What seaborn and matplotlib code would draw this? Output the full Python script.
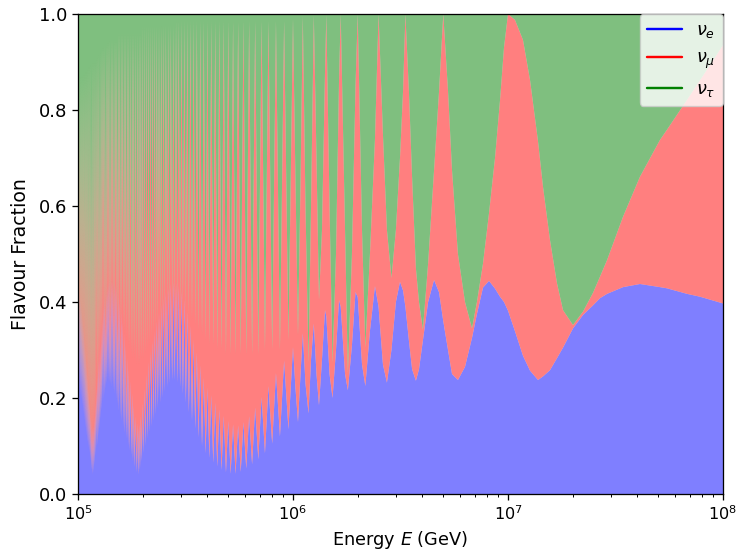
import numpy as np
import pandas as pd
import matplotlib
matplotlib.use("Agg")
import matplotlib.pyplot as plt
from matplotlib.lines import Line2D
import seaborn as sns

# ---------------- data ----------------
# Resolved part (1e6 .. 1e8 GeV): nodes along the two boundaries
energy_resolved = [
    1.0e8, 7.82e7, 6.80e7, 5.49e7, 5.09e7, 4.11e7, 3.43e7, 2.89e7, 2.68e7, 2.485e7,
    2.233e7, 2.006e7, 1.803e7, 1.690e7, 1.568e7, 1.455e7, 1.379e7, 1.266e7, 1.174e7, 1.078e7,
    1.0e7, 9.58e6, 9.18e6, 8.70e6, 8.16e6, 7.65e6, 7.17e6, 6.80e6, 6.31e6, 5.85e6,
    5.49e6, 5.26e6, 5.0e6, 4.78e6, 4.53e6, 4.25e6, 4.02e6, 3.855e6, 3.73e6, 3.58e6,
    3.46e6, 3.333e6, 3.25e6, 3.145e6, 3.01e6, 2.87e6, 2.735e6, 2.62e6, 2.5e6, 2.406e6,
    2.28e6, 2.17e6, 2.094e6, 2.0e6, 1.953e6, 1.88e6, 1.80e6, 1.746e6, 1.667e6, 1.637e6,
    1.585e6, 1.527e6, 1.479e6, 1.429e6, 1.409e6, 1.364e6, 1.321e6, 1.286e6, 1.25e6, 1.213e6,
    1.181e6, 1.143e6, 1.111e6, 1.084e6, 1.055e6, 1.027e6, 1.0e6]
# upper edge of the nu_e band
nue_top_resolved = [
    0.397, 0.411, 0.417, 0.4285, 0.431, 0.4375, 0.431, 0.417, 0.408, 0.393,
    0.373, 0.345, 0.305, 0.283, 0.258, 0.245, 0.2375, 0.257, 0.288, 0.339,
    0.382, 0.40, 0.411, 0.428, 0.444, 0.43, 0.375, 0.325, 0.265, 0.2375,
    0.25, 0.30, 0.36, 0.42, 0.446, 0.40, 0.32, 0.26, 0.236, 0.26,
    0.32, 0.39, 0.424, 0.442, 0.40, 0.30, 0.232, 0.27, 0.39, 0.433,
    0.34, 0.225, 0.27, 0.41, 0.421, 0.31, 0.216, 0.25, 0.39, 0.404,
    0.30, 0.20, 0.25, 0.37, 0.383, 0.28, 0.185, 0.25, 0.355, 0.28,
    0.168, 0.23, 0.335, 0.25, 0.15, 0.22, 0.306]
# upper edge of the nu_mu band (nu_e + nu_mu)
numu_top_resolved = [
    0.935, 0.862, 0.821, 0.759, 0.7375, 0.661, 0.578, 0.4875, 0.453, 0.419,
    0.380, 0.352, 0.383, 0.439, 0.529, 0.640, 0.735, 0.8625, 0.946, 0.9875,
    1.0, 0.93, 0.82, 0.70, 0.585, 0.48, 0.40, 0.345, 0.40, 0.50,
    0.675, 0.84, 1.0, 0.84, 0.675, 0.48, 0.342, 0.40, 0.47, 0.66,
    0.84, 1.0, 0.84, 0.70, 0.55, 0.45, 0.55, 0.75, 1.0, 0.74,
    0.50, 0.305, 0.55, 1.0, 0.85, 0.50, 0.252, 0.55, 1.0, 0.86,
    0.50, 0.273, 0.6, 0.998, 0.88, 0.55, 0.404, 0.7, 0.997, 0.6,
    0.273, 0.6, 0.995, 0.65, 0.33, 0.65, 0.99]

# Dense part (1e5 .. 1e6 GeV): crest of each fast oscillation
energy_crests = [
    9.091e5, 8.333e5, 7.692e5, 7.143e5, 6.667e5, 6.25e5, 5.882e5, 5.556e5, 5.263e5, 5.0e5,
    4.762e5, 4.545e5, 4.348e5, 4.167e5, 4.0e5, 3.846e5, 3.704e5, 3.571e5, 3.448e5, 3.333e5,
    3.226e5, 3.125e5, 3.030e5, 2.941e5, 2.857e5, 2.778e5, 2.703e5, 2.632e5, 2.564e5, 2.5e5,
    2.439e5, 2.381e5, 2.326e5, 2.273e5, 2.222e5, 2.174e5, 2.128e5, 2.083e5, 2.041e5, 2.0e5,
    1.961e5, 1.923e5, 1.887e5, 1.852e5, 1.818e5, 1.786e5, 1.754e5, 1.724e5, 1.695e5, 1.667e5,
    1.639e5, 1.613e5, 1.587e5, 1.563e5, 1.538e5, 1.515e5, 1.493e5, 1.471e5, 1.449e5, 1.429e5,
    1.408e5, 1.389e5, 1.370e5, 1.351e5, 1.333e5, 1.316e5, 1.299e5, 1.282e5, 1.266e5, 1.25e5,
    1.235e5, 1.220e5, 1.205e5, 1.190e5, 1.176e5, 1.163e5, 1.149e5, 1.136e5, 1.124e5, 1.111e5,
    1.099e5, 1.087e5, 1.075e5, 1.064e5, 1.053e5, 1.042e5, 1.031e5, 1.020e5, 1.010e5, 1.0e5]
nue_top_crests = [
    0.278, 0.252, 0.225, 0.202, 0.18, 0.162, 0.15, 0.143, 0.145, 0.152,
    0.163, 0.176, 0.19, 0.206, 0.222, 0.242, 0.268, 0.295, 0.322, 0.35,
    0.38, 0.405, 0.422, 0.435, 0.44, 0.442, 0.438, 0.43, 0.42, 0.408,
    0.395, 0.378, 0.36, 0.34, 0.32, 0.298, 0.275, 0.25, 0.22, 0.19,
    0.162, 0.145, 0.148, 0.162, 0.185, 0.21, 0.235, 0.26, 0.285, 0.31,
    0.335, 0.36, 0.38, 0.40, 0.418, 0.43, 0.437, 0.442, 0.444, 0.445,
    0.443, 0.44, 0.432, 0.42, 0.405, 0.39, 0.365, 0.34, 0.31, 0.28,
    0.25, 0.22, 0.19, 0.16, 0.142, 0.14, 0.16, 0.19, 0.22, 0.25,
    0.275, 0.30, 0.325, 0.35, 0.37, 0.39, 0.405, 0.42, 0.427, 0.432]
numu_top_crests = [
    0.985, 0.985, 0.985, 0.985, 0.985, 0.985, 0.985, 0.985, 0.985, 0.985,
    0.985, 0.985, 0.985, 0.985, 0.985, 0.985, 0.985, 0.985, 0.985, 0.985,
    0.985, 0.985, 0.985, 0.985, 0.985, 0.975, 0.975, 0.975, 0.975, 0.975,
    0.975, 0.975, 0.975, 0.975, 0.975, 0.975, 0.975, 0.975, 0.975, 0.975,
    0.96, 0.96, 0.96, 0.96, 0.96, 0.96, 0.96, 0.96, 0.96, 0.96,
    0.96, 0.96, 0.96, 0.96, 0.96, 0.945, 0.945, 0.945, 0.945, 0.945,
    0.945, 0.94, 0.94, 0.935, 0.935, 0.93, 0.93, 0.925, 0.92, 0.915,
    0.91, 0.905, 0.90, 0.90, 0.90, 0.90, 0.895, 0.89, 0.89, 0.885,
    0.88, 0.88, 0.875, 0.875, 0.87, 0.87, 0.87, 0.87, 0.87, 0.87]

# Dense part: dip of each fast oscillation
energy_dips = [
    9.524e5, 8.696e5, 8.0e5, 7.407e5, 6.897e5, 6.452e5, 6.061e5, 5.714e5, 5.405e5, 5.128e5,
    4.878e5, 4.651e5, 4.444e5, 4.255e5, 4.082e5, 3.922e5, 3.774e5, 3.636e5, 3.509e5, 3.390e5,
    3.279e5, 3.175e5, 3.077e5, 2.985e5, 2.899e5, 2.817e5, 2.740e5, 2.667e5, 2.597e5, 2.532e5,
    2.469e5, 2.410e5, 2.353e5, 2.299e5, 2.247e5, 2.198e5, 2.151e5, 2.105e5, 2.062e5, 2.020e5,
    1.980e5, 1.942e5, 1.905e5, 1.869e5, 1.835e5, 1.802e5, 1.770e5, 1.739e5, 1.709e5, 1.681e5,
    1.653e5, 1.626e5, 1.600e5, 1.575e5, 1.550e5, 1.527e5, 1.504e5, 1.481e5, 1.460e5, 1.439e5,
    1.418e5, 1.399e5, 1.379e5, 1.361e5, 1.342e5, 1.325e5, 1.307e5, 1.290e5, 1.274e5, 1.258e5,
    1.242e5, 1.227e5, 1.212e5, 1.198e5, 1.183e5, 1.170e5, 1.156e5, 1.143e5, 1.130e5, 1.117e5,
    1.105e5, 1.093e5, 1.081e5, 1.070e5, 1.058e5, 1.047e5, 1.036e5, 1.026e5, 1.015e5, 1.005e5]
nue_top_dips = [
    0.135, 0.12, 0.105, 0.085, 0.072, 0.062, 0.053, 0.046, 0.042, 0.042,
    0.045, 0.05, 0.057, 0.065, 0.075, 0.085, 0.1, 0.118, 0.135, 0.152,
    0.17, 0.19, 0.208, 0.222, 0.232, 0.237, 0.236, 0.23, 0.222, 0.212,
    0.2, 0.19, 0.178, 0.165, 0.152, 0.14, 0.128, 0.115, 0.1, 0.085,
    0.068, 0.05, 0.04, 0.045, 0.055, 0.068, 0.08, 0.09, 0.1, 0.115,
    0.125, 0.138, 0.15, 0.16, 0.172, 0.185, 0.197, 0.208, 0.216, 0.222,
    0.227, 0.232, 0.233, 0.228, 0.218, 0.205, 0.19, 0.172, 0.155, 0.135,
    0.12, 0.1, 0.08, 0.06, 0.045, 0.04, 0.05, 0.07, 0.085, 0.095,
    0.105, 0.12, 0.135, 0.15, 0.165, 0.18, 0.195, 0.205, 0.212, 0.218]
numu_top_dips = [
    0.32, 0.30, 0.30, 0.30, 0.29, 0.29, 0.29, 0.29, 0.29, 0.29,
    0.29, 0.30, 0.30, 0.31, 0.31, 0.32, 0.33, 0.34, 0.35, 0.36,
    0.37, 0.38, 0.39, 0.39, 0.40, 0.40, 0.40, 0.39, 0.39, 0.38,
    0.37, 0.36, 0.35, 0.34, 0.33, 0.32, 0.31, 0.30, 0.29, 0.28,
    0.28, 0.27, 0.27, 0.27, 0.28, 0.28, 0.29, 0.30, 0.31, 0.32,
    0.33, 0.34, 0.35, 0.35, 0.36, 0.36, 0.37, 0.37, 0.37, 0.37,
    0.37, 0.36, 0.36, 0.35, 0.34, 0.33, 0.32, 0.31, 0.30, 0.27,
    0.24, 0.20, 0.16, 0.13, 0.11, 0.10, 0.10, 0.11, 0.12, 0.14,
    0.16, 0.17, 0.18, 0.19, 0.20, 0.21, 0.22, 0.225, 0.23, 0.235]

flavour_labels = [r"$\nu_e$", r"$\nu_\mu$", r"$\nu_\tau$"]
flavour_colors = ["#0000ff", "#ff0000", "#008000"]

# ---------------- assemble ----------------
df = pd.DataFrame({
    "energy": energy_resolved + energy_crests + energy_dips,
    "e_top": nue_top_resolved + nue_top_crests + nue_top_dips,
    "mu_top": numu_top_resolved + numu_top_crests + numu_top_dips,
}).sort_values("energy").reset_index(drop=True)
frac_e = df["e_top"]
frac_mu = df["mu_top"] - df["e_top"]
frac_tau = 1.0 - df["mu_top"]

# ---------------- style ----------------
s = 1.16
sns.set_theme(style="ticks", context="notebook", color_codes=False, rc={
    "axes.edgecolor": "black", "axes.labelcolor": "black", "text.color": "black",
    "xtick.color": "black", "ytick.color": "black",
    "axes.linewidth": 0.8 * s,
    "xtick.major.width": 0.8 * s, "ytick.major.width": 0.8 * s,
    "xtick.minor.width": 0.6 * s, "ytick.minor.width": 0.6 * s,
    "xtick.major.size": 3.5 * s, "ytick.major.size": 3.5 * s,
    "xtick.minor.size": 2.0 * s, "ytick.minor.size": 2.0 * s,
    "xtick.labelsize": 10 * s, "ytick.labelsize": 11.2 * s,
    "axes.labelsize": 11 * s,
    "patch.force_edgecolor": False,
})
plt.rcParams["font.family"] = ["DejaVu Sans"]
plt.rcParams["mathtext.fontset"] = "dejavusans"

fig, ax = plt.subplots(figsize=(7.41, 5.58), dpi=100)
fig.subplots_adjust(left=78 / 741, right=723 / 741, top=1 - 14 / 558, bottom=1 - 494 / 558)

ax.stackplot(df["energy"], frac_e, frac_mu, frac_tau,
             colors=flavour_colors, alpha=0.5, edgecolor="none", linewidth=0)
ax.set_xscale("log")
ax.set_xlim(1e5, 1e8)
ax.set_ylim(0, 1)
ax.set_xlabel(r"Energy $E$ (GeV)")
ax.set_ylabel("Flavour Fraction", fontsize=11.7 * s, labelpad=5.5 * s)

handles = [Line2D([0], [0], color=c, lw=1.5 * s) for c in flavour_colors]
ax.legend(handles, flavour_labels, loc="upper right", fontsize=11 * s,
          frameon=True, framealpha=0.8, edgecolor="0.8", fancybox=True,
          borderaxespad=0.0)

fig.savefig("out.png", dpi=100)
